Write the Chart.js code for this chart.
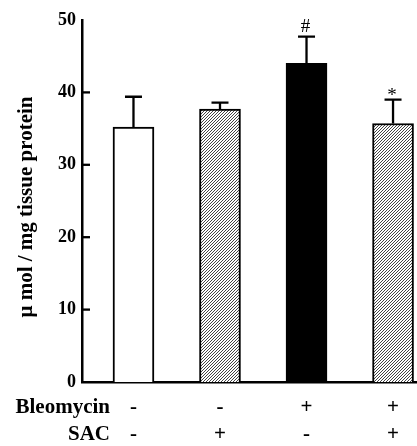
<!DOCTYPE html>
<html>
<head>
<meta charset="utf-8">
<script src="https://cdn.jsdelivr.net/npm/chart.js@4"></script>
<style>
html,body{margin:0;padding:0;background:#fff;}
#wrap{width:417px;height:446px;position:relative;}
</style>
</head>
<body>
<div id="wrap"><canvas id="c"></canvas></div>
<script>
// ---- data ----
const groups = ['Control', 'SAC', 'Bleomycin', 'Bleomycin + SAC'];
const means = [35.2, 37.7, 44.0, 35.7];
const errors = [4.2, 0.9, 3.7, 3.3];
const marks = ['', '', '#', '*'];
const rowTitles = ['Bleomycin', 'SAC'];
const bleomycinRow = ['-', '-', '+', '+'];
const sacRow = ['-', '+', '-', '+'];
const yTickValues = [0, 10, 20, 30, 40, 50];
const yTitle = 'μ mol / mg tissue protein';

const SERIF = "'Liberation Serif', 'Times New Roman', serif";

function hatch() {
  const c = document.createElement('canvas');
  c.width = 3; c.height = 3;
  const g = c.getContext('2d');
  g.fillStyle = '#fff';
  g.fillRect(0, 0, 3, 3);
  g.strokeStyle = '#3a3a3a';
  g.lineWidth = 0.95;
  g.beginPath();
  g.moveTo(-1, 4); g.lineTo(4, -1);
  g.moveTo(-1, 1); g.lineTo(1, -1);
  g.moveTo(2, 4); g.lineTo(4, 2);
  g.stroke();
  return g.createPattern(c, 'repeat');
}
const pat = hatch();
const fills = ['#ffffff', pat, '#000000', pat];

const decor = {
  id: 'decor',
  afterDatasetsDraw(chart) {
    const ctx = chart.ctx;
    const ys = chart.scales.y;
    const meta = chart.getDatasetMeta(0);
    ctx.save();
    ctx.strokeStyle = '#000';
    ctx.lineWidth = 2.3;
    meta.data.forEach((el, i) => {
      const top = ys.getPixelForValue(means[i] + errors[i]);
      ctx.beginPath();
      ctx.moveTo(el.x, el.y);
      ctx.lineTo(el.x, top);
      ctx.moveTo(el.x - 8.5, top);
      ctx.lineTo(el.x + 8.5, top);
      ctx.stroke();
      if (marks[i]) {
        ctx.fillStyle = '#000';
        ctx.font = '19px ' + SERIF;
        ctx.textAlign = 'center';
        ctx.textBaseline = 'alphabetic';
        const m = ctx.measureText(marks[i]);
        ctx.fillText(marks[i], el.x - 1, top - 5 - m.actualBoundingBoxDescent);
      }
    });
    // inward y ticks
    yTickValues.forEach(v => {
      if (v === 0 || v === 50) return;
      const y = ys.getPixelForValue(v);
      ctx.beginPath();
      ctx.moveTo(chart.chartArea.left, y);
      ctx.lineTo(chart.chartArea.left + 8, y);
      ctx.stroke();
    });
    ctx.restore();
  },
  afterDraw(chart) {
    const ctx = chart.ctx;
    const xs = chart.scales.x;
    const ca = chart.chartArea;
    const lh = 27;
    ctx.save();
    ctx.fillStyle = '#000';
    ctx.font = 'bold 21px ' + SERIF;
    ctx.textAlign = 'right';
    ctx.textBaseline = 'middle';
    rowTitles.forEach((t, i) => {
      ctx.fillText(t, 110, xs.top + 12 + lh * (i + 0.5));
    });
    // y axis title
    ctx.translate(27, (ca.top + ca.bottom) / 2 + 6);
    ctx.rotate(-Math.PI / 2);
    ctx.textAlign = 'center';
    ctx.font = 'bold 21px ' + SERIF;
    ctx.fillText(yTitle, 0, 0);
    ctx.restore();
  }
};

new Chart(document.getElementById('c'), {
  type: 'bar',
  data: {
    datasets: [{
      data: means.map((v, i) => ({ x: i, y: v })),
      backgroundColor: fills,
      borderColor: '#000',
      borderWidth: 2,
      barThickness: 41
    }]
  },
  options: {
    responsive: true,
    maintainAspectRatio: false,
    animation: false,
    layout: { padding: { top: 20, right: 0, bottom: 0, left: 0 } },
    plugins: { legend: { display: false }, tooltip: { enabled: false } },
    scales: {
      x: {
        type: 'linear',
        offset: false,
        min: -0.595,
        max: 3.277,
        grid: { display: false, drawTicks: false, offset: false },
        border: { display: true, color: '#000', width: 2.5 },
        afterBuildTicks(s) { s.ticks = groups.map((_, i) => ({ value: i })); },
        afterFit(s) { s.height = 64; },
        ticks: {
          autoSkip: false,
          maxRotation: 0,
          padding: 12,
          color: '#000',
          font: { family: SERIF, size: 21, weight: 'bold', lineHeight: 1.3 },
          callback: (v) => [bleomycinRow[v], sacRow[v]]
        }
      },
      y: {
        min: 0,
        max: 50,
        grid: { display: false, drawTicks: false },
        border: { display: true, color: '#000', width: 2.5 },
        afterBuildTicks(s) { s.ticks = yTickValues.map(v => ({ value: v })); },
        afterFit(s) { s.width = 82; },
        ticks: {
          padding: 6,
          color: '#000',
          font: { family: SERIF, size: 18, weight: 'bold' }
        },
        title: { display: false }
      }
    }
  },
  plugins: [decor]
});
</script>
</body>
</html>
